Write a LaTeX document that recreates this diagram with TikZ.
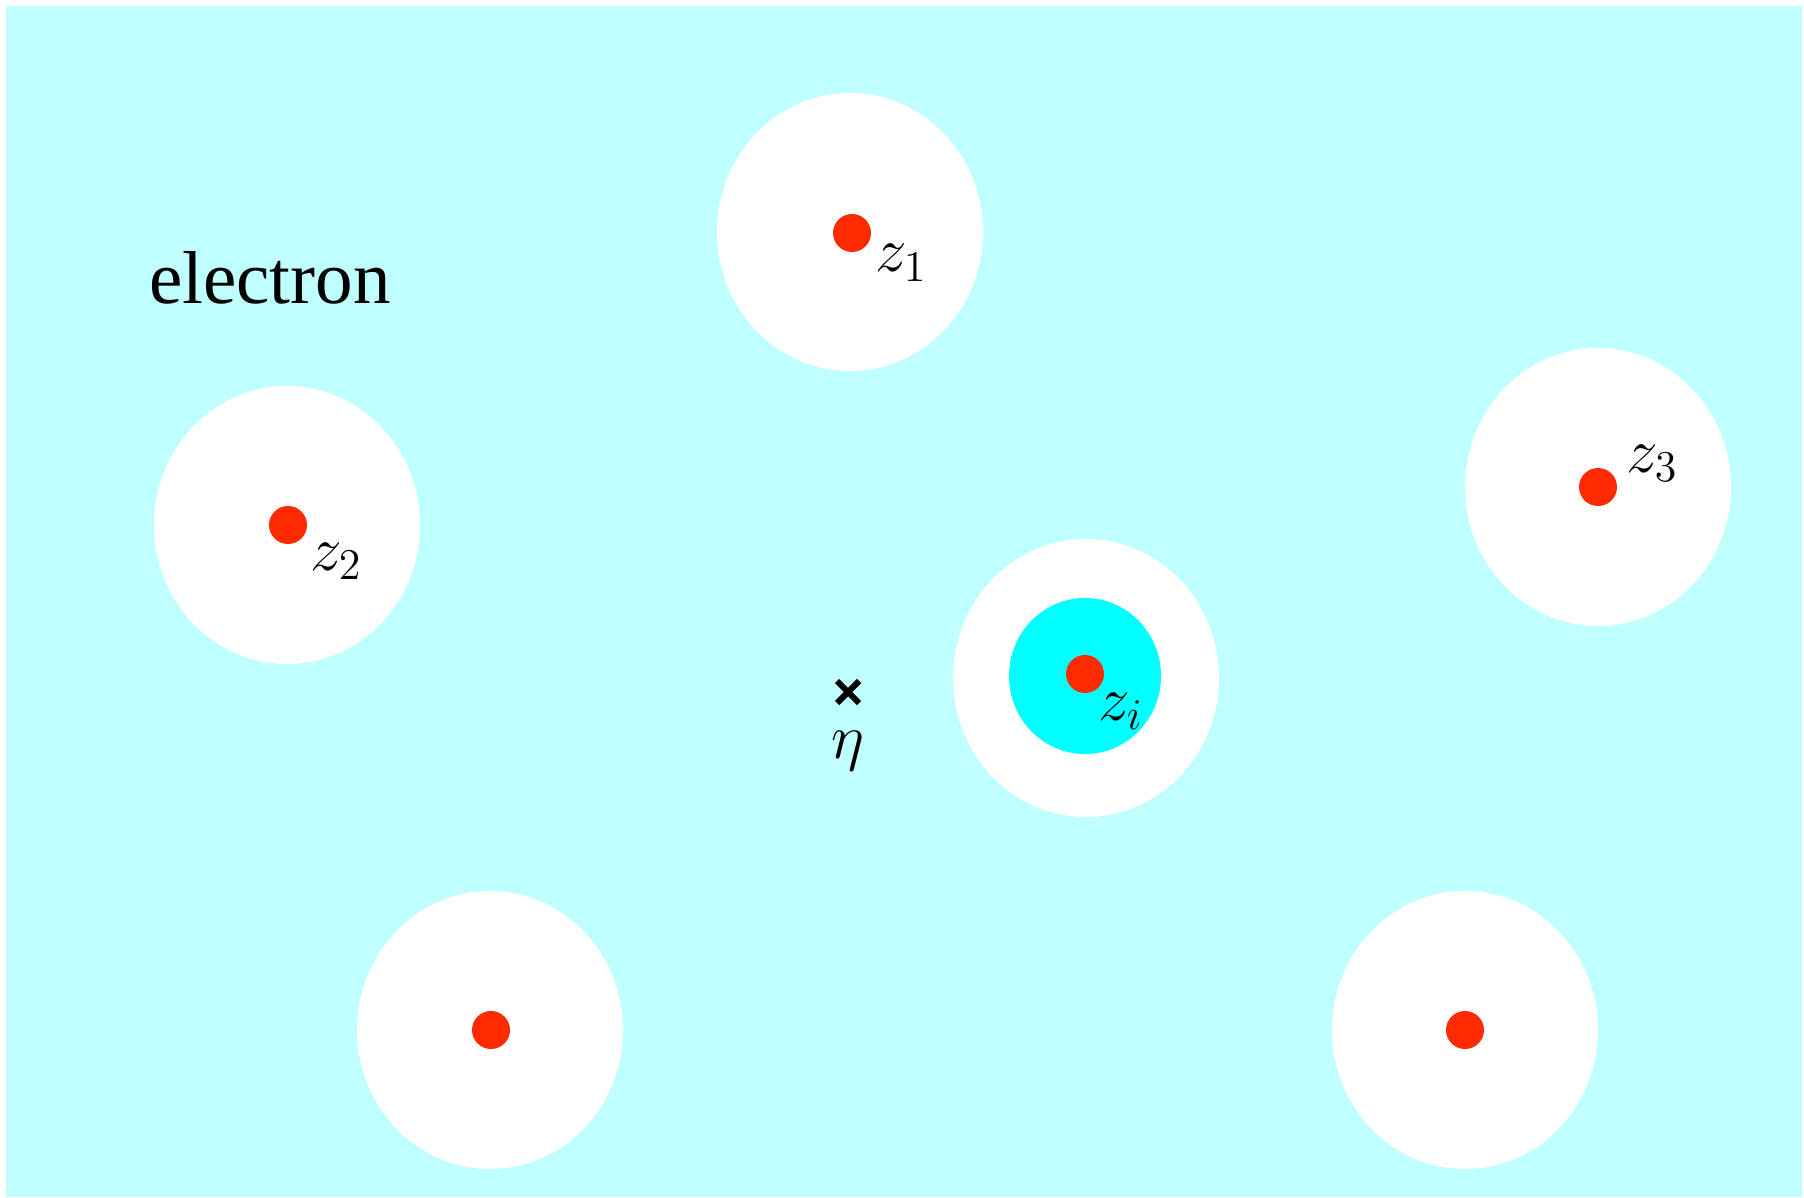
\documentclass[tikz,border=0pt]{standalone}
\usepackage{fontspec}
\usetikzlibrary{calc}
\newfontfamily\timesfont{Liberation Serif}
\definecolor{bgcyan}{RGB}{191,255,255}
\definecolor{corecyan}{RGB}{0,255,255}
\definecolor{nucleus}{RGB}{255,42,0}
% math labels: set at 20.74pt and enlarged to about 63pt
\newcommand{\biglabel}[1]{\scalebox{3.05}{\fontsize{20.74}{25}\selectfont$#1$}}
\begin{document}
\begin{tikzpicture}[x=1pt,y=-1pt,
  hole/.style={fill=white,draw=none},
  dot/.style={fill=nucleus,draw=none},
  lbl/.style={inner sep=0pt,anchor=base west}]
\useasboundingbox (0,0) rectangle (1804,1198);
% background sea of electrons
\fill[bgcyan] (6,6) rectangle (1802,1197);
% depleted regions round each ion
\foreach \cx/\cy in {850/232, 287/525, 1598/487, 1086/678, 490/1030, 1465/1030}
  \fill[hole] (\cx,\cy) ellipse [x radius=133, y radius=139];
% screening cloud of the selected ion
\fill[corecyan] (1085,676) ellipse [x radius=76, y radius=78];
% ions
\foreach \cx/\cy in {852/233, 288/525, 1598/487, 1085/674, 491/1030, 1465/1030}
  \fill[dot] (\cx,\cy) circle (19);
% labels
\node[lbl] (l1) at (875,272) {\biglabel{z_1}};
\node[lbl] (l2) at (310,570) {\biglabel{z_2}};
\node[lbl] (l3) at (1626,472) {\biglabel{z_3}};
\node[lbl] (li) at (1098,720) {\biglabel{z_i}};
\node[lbl] (le) at (831,758) {\biglabel{\eta}};
\node[inner sep=0pt,anchor=base west,font=\timesfont\fontsize{75}{90}\selectfont] (el) at (149,304) {electron};
% probe point
\coordinate (p) at (848,692);
\draw[line width=6pt] ($(p)+(-11,-11)$) -- ($(p)+(11,11)$) ($(p)+(-11,11)$) -- ($(p)+(11,-11)$);
\end{tikzpicture}
\end{document}
